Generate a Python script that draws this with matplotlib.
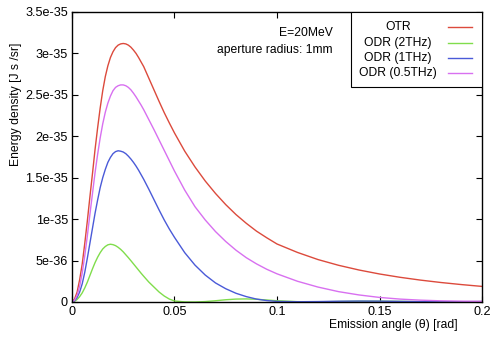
import numpy as np
import matplotlib
matplotlib.use('Agg')
import matplotlib.pyplot as plt

plt.rcParams['font.family'] = ['Liberation Sans', 'DejaVu Sans']
plt.rcParams['font.size'] = 8.7

# angle grid [rad] and energy densities (units of 1e-36 J s /sr)
theta = [0, 0.00125, 0.0025, 0.00375, 0.005, 0.00625, 0.0075, 0.00875, 0.01, 0.01125,
         0.0125, 0.01375, 0.015, 0.01625, 0.0175, 0.01875, 0.02, 0.02125, 0.0225, 0.02375,
         0.025, 0.02625, 0.0275, 0.02875, 0.03, 0.03125, 0.0325, 0.03375, 0.035,
         0.0375, 0.04, 0.0425, 0.045, 0.0475, 0.05,
         0.055, 0.06, 0.065, 0.07, 0.075, 0.08, 0.085, 0.09, 0.095, 0.1,
         0.11, 0.12, 0.13, 0.14, 0.15, 0.16, 0.17, 0.18, 0.19, 0.2]

otr = [0, 0.35, 1.2, 2.7, 4.6, 7.1, 9.8, 12.7, 15.5, 18.4,
       21.0, 23.4, 25.5, 27.2, 28.5, 29.5, 30.2, 30.7, 31.0, 31.15,
       31.2, 31.15, 31.0, 30.75, 30.4, 30.0, 29.5, 28.95, 28.4,
       27.0, 25.6, 24.2, 22.85, 21.6, 20.4,
       18.2, 16.3, 14.6, 13.1, 11.75, 10.55, 9.5, 8.55, 7.75, 7.0,
       5.98, 5.12, 4.43, 3.86, 3.38, 2.98, 2.64, 2.35, 2.1, 1.88]

odr_2thz = [0, 0.08, 0.3, 0.65, 1.1, 1.7, 2.4, 3.2, 4.0, 4.75,
            5.4, 5.95, 6.4, 6.7, 6.9, 6.97, 6.92, 6.8, 6.6, 6.35,
            6.05, 5.7, 5.35, 4.98, 4.6, 4.22, 3.84, 3.46, 3.1,
            2.4, 1.8, 1.2, 0.72, 0.35, 0.12,
            0.01, 0.0, 0.05, 0.15, 0.27, 0.35, 0.37, 0.33, 0.24, 0.15,
            0.04, 0.02, 0.06, 0.1, 0.1, 0.07, 0.04, 0.02, 0.03, 0.05]

odr_1thz = [0, 0.15, 0.55, 1.2, 2.2, 3.6, 5.3, 7.1, 8.9, 10.7,
            12.3, 13.8, 15.0, 16.0, 16.85, 17.45, 17.9, 18.15, 18.25, 18.2,
            18.1, 17.9, 17.6, 17.25, 16.85, 16.4, 15.9, 15.35, 14.8,
            13.6, 12.35, 11.1, 9.9, 8.8, 7.8,
            5.95, 4.45, 3.25, 2.3, 1.6, 1.05, 0.65, 0.35, 0.17, 0.07,
            0.03, 0.05, 0.09, 0.11, 0.1, 0.07, 0.04, 0.03, 0.03, 0.05]

odr_05thz = [0, 0.22, 0.8, 1.9, 3.5, 5.6, 8.0, 10.6, 13.1, 15.6,
             17.8, 19.8, 21.5, 22.9, 24.0, 24.85, 25.5, 25.9, 26.1, 26.2,
             26.2, 26.1, 25.9, 25.6, 25.2, 24.75, 24.25, 23.75, 23.2,
             22.0, 20.8, 19.55, 18.3, 17.05, 15.8,
             13.5, 11.5, 9.9, 8.5, 7.3, 6.25, 5.35, 4.6, 3.95, 3.4,
             2.5, 1.8, 1.25, 0.85, 0.55, 0.35, 0.22, 0.14, 0.1, 0.08]

labels = ['OTR', 'ODR (2THz)', 'ODR (1THz)', 'ODR (0.5THz)']
colors = ['#dc4a3c', '#80dd4c', '#4a5ad8', '#d870f0']

fig = plt.figure(figsize=(4.92, 3.37), dpi=100)
ax = fig.add_axes([0.1463, 0.1039, 0.8334, 0.8605])

x = np.array(theta)
for y, c in zip([otr, odr_2thz, odr_1thz, odr_05thz], colors):
    ax.plot(x, np.array(y) * 1e-36, color=c, lw=1.0)

ax.set_xlim(0, 0.2)
ax.set_ylim(0, 3.5e-35)
ax.set_xticks([0, 0.05, 0.1, 0.15, 0.2])
ax.set_xticklabels(['0', '0.05', '0.1', '0.15', '0.2'])
ax.set_yticks([0, 5e-36, 1e-35, 1.5e-35, 2e-35, 2.5e-35, 3e-35, 3.5e-35])
ax.set_yticklabels(['0', '5e-36', '1e-35', '1.5e-35', '2e-35', '2.5e-35', '3e-35', '3.5e-35'])
ax.tick_params(direction='in', length=4, width=0.8, top=True, right=True, pad=3,
               labelsize=9.1)
for s in ax.spines.values():
    s.set_linewidth(1.0)

# legend box, gnuplot style (text centred, sample line on the right)
ax.add_patch(plt.Rectangle((0.680, 0.741), 0.32, 0.259, transform=ax.transAxes,
                           facecolor='white', edgecolor='black', lw=0.8, zorder=4))
rows = [0.949, 0.892, 0.841, 0.791]
for lab, c, ry in zip(labels, colors, rows):
    ax.text(0.795, ry, lab, transform=ax.transAxes, ha='center', va='center', zorder=5)
    ax.plot([0.917, 0.976], [ry, ry], transform=ax.transAxes, color=c, lw=1.0, zorder=5)

ax.text(0.637, 0.927, 'E=20MeV', transform=ax.transAxes, ha='right', va='center')
ax.text(0.635, 0.869, 'aperture radius: 1mm', transform=ax.transAxes, ha='right', va='center')

fig.text(0.931, 0.035, 'Emission angle (θ) [rad]', ha='right', va='center')
fig.text(0.033, 0.69, 'Energy density [J s /sr]', rotation=90, ha='center', va='center')

fig.savefig('out.png', dpi=100)
